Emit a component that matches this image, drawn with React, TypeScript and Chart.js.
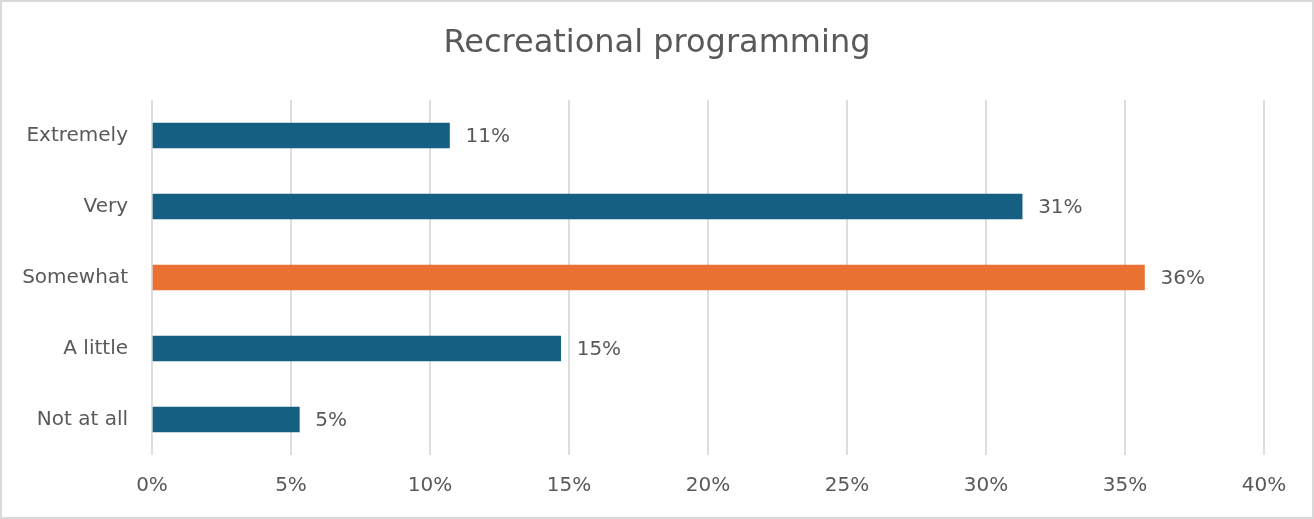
import React, { useEffect, useRef } from "react";
import { Chart, registerables } from "chart.js";

Chart.register(...registerables);

const titleText = "Recreational programming";
const categories = ["Extremely", "Very", "Somewhat", "A little", "Not at all"];
const values = [10.7, 31.3, 35.7, 14.7, 5.3];
const barColors = ["#156082", "#156082", "#E97132", "#156082", "#156082"];
const xTicks = [0, 5, 10, 15, 20, 25, 30, 35, 40];

const FONT = "'DejaVu Sans', 'Open Sans', sans-serif";
const TEXT = "#595959";

const frame = {
  id: "frame",
  beforeDraw(chart: any) {
    const { ctx, width, height } = chart;
    ctx.save();
    ctx.fillStyle = "#ffffff";
    ctx.fillRect(0, 0, width, height);
    ctx.strokeStyle = "#d9d9d9";
    ctx.lineWidth = 2;
    ctx.strokeRect(1, 1, width - 2, height - 2);
    ctx.restore();
  },
};

const dataLabels = {
  id: "dataLabels",
  afterDatasetsDraw(chart: any) {
    const { ctx } = chart;
    const meta = chart.getDatasetMeta(0);
    ctx.save();
    ctx.font = `20px ${FONT}`;
    ctx.fillStyle = TEXT;
    ctx.textAlign = "left";
    ctx.textBaseline = "middle";
    meta.data.forEach((bar: any, i: number) => {
      ctx.fillText(Math.round(values[i]) + "%", bar.x + 16, bar.y + 1);
    });
    ctx.restore();
  },
};

export default function App() {
  const ref = useRef<HTMLCanvasElement | null>(null);
  useEffect(() => {
    if (!ref.current) return;
    const chart = new Chart(ref.current, {
      type: "bar",
      data: {
        labels: categories,
        datasets: [
          {
            data: values,
            backgroundColor: barColors,
            barThickness: 25,
            xAxisID: "x",
            yAxisID: "y",
          },
        ],
      },
      options: {
        indexAxis: "y",
        animation: false,
        responsive: false,
        devicePixelRatio: 1,
        layout: { padding: 0 },
        plugins: {
          legend: { display: false },
          tooltip: { enabled: false },
          title: {
            display: true,
            text: titleText,
            color: TEXT,
            font: { family: FONT, size: 32, weight: "normal" },
            padding: { top: 24, bottom: 37.6 },
          },
        },
        scales: {
          x: {
            min: 0,
            max: 40,
            afterBuildTicks(scale: any) {
              scale.ticks = xTicks.map((v) => ({ value: v }));
            },
            afterFit(scale: any) {
              scale.height = 64;
            },
            grid: { color: "#dedede", lineWidth: 2, drawTicks: false },
            border: { display: false },
            ticks: {
              color: TEXT,
              padding: 19,
              font: { family: FONT, size: 20 },
              callback: (v: any) => v + "%",
            },
          },
          y: {
            afterFit(scale: any) {
              scale.width = 152;
            },
            grid: { display: false, drawTicks: false },
            border: { display: false },
            ticks: {
              color: TEXT,
              padding: 24,
              font: { family: FONT, size: 20 },
            },
          },
          yRight: {
            type: "linear",
            position: "right",
            afterFit(scale: any) {
              scale.width = 50;
            },
            grid: { display: false, drawTicks: false },
            border: { display: false },
            ticks: { display: false },
          },
        },
      },
      plugins: [frame, dataLabels],
    });
    return () => chart.destroy();
  }, []);
  return (
    <div style={{ position: "absolute", left: 0, top: 0, width: 1314, height: 519 }}>
      <canvas ref={ref} width={1314} height={519} />
    </div>
  );
}
